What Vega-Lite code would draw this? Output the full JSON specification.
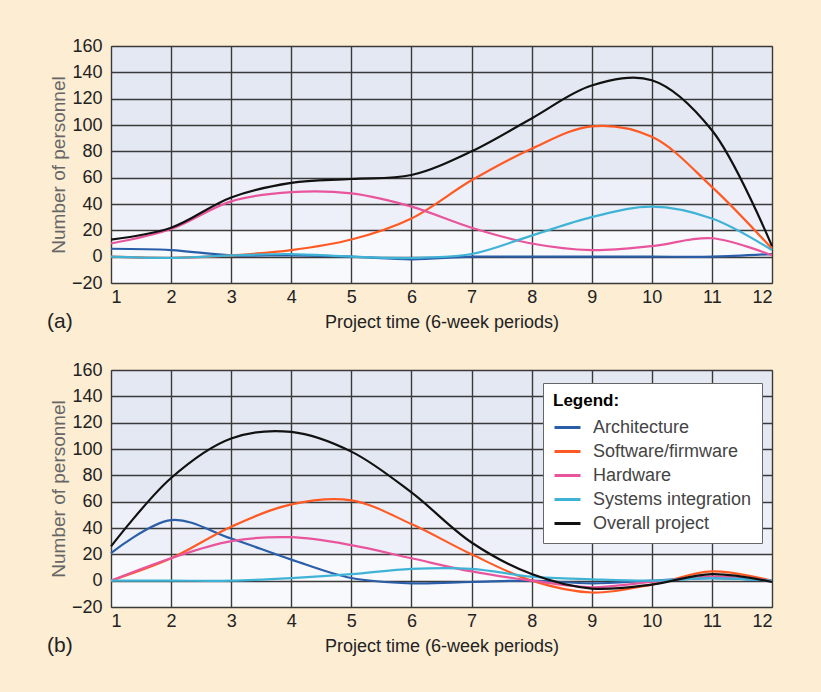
{
  "$schema": "https://vega.github.io/schema/vega-lite/v6.json",
  "background": "#fcedd3",
  "padding": {"left": 46, "top": 36, "right": 44, "bottom": 36},
  "spacing": 27,
  "config": {
    "font": "Liberation Sans",
    "axis": {
      "domain": false,
      "ticks": false,
      "grid": true,
      "gridColor": "#3a3a3a",
      "gridWidth": 1.4,
      "gridOpacity": 1,
      "labelFontSize": 18,
      "labelColor": "#222",
      "titleFontWeight": "normal"
    },
    "legend": {
      "fillColor": "#ffffff",
      "strokeColor": "#666",
      "padding": 10
    },
    "title": {"fontSize": 21, "fontWeight": "normal", "color": "#222"}
  },
  "datasets": {
    "a": [
      {"t":1,"s":"Architecture","v":6},{"t":2,"s":"Architecture","v":5},{"t":3,"s":"Architecture","v":1},{"t":4,"s":"Architecture","v":1},{"t":5,"s":"Architecture","v":0},{"t":6,"s":"Architecture","v":-2},{"t":7,"s":"Architecture","v":0},{"t":8,"s":"Architecture","v":0},{"t":9,"s":"Architecture","v":0},{"t":10,"s":"Architecture","v":0},{"t":11,"s":"Architecture","v":0},{"t":12,"s":"Architecture","v":2},
      {"t":1,"s":"Software/firmware","v":0},{"t":2,"s":"Software/firmware","v":-1},{"t":3,"s":"Software/firmware","v":1},{"t":4,"s":"Software/firmware","v":5},{"t":5,"s":"Software/firmware","v":13},{"t":6,"s":"Software/firmware","v":29},{"t":7,"s":"Software/firmware","v":58},{"t":8,"s":"Software/firmware","v":82},{"t":9,"s":"Software/firmware","v":99},{"t":10,"s":"Software/firmware","v":91},{"t":11,"s":"Software/firmware","v":53},{"t":12,"s":"Software/firmware","v":6},
      {"t":1,"s":"Hardware","v":10},{"t":2,"s":"Hardware","v":21},{"t":3,"s":"Hardware","v":42},{"t":4,"s":"Hardware","v":49},{"t":5,"s":"Hardware","v":48},{"t":6,"s":"Hardware","v":38},{"t":7,"s":"Hardware","v":22},{"t":8,"s":"Hardware","v":10},{"t":9,"s":"Hardware","v":5},{"t":10,"s":"Hardware","v":8},{"t":11,"s":"Hardware","v":14},{"t":12,"s":"Hardware","v":1},
      {"t":1,"s":"Systems integration","v":0},{"t":2,"s":"Systems integration","v":-1},{"t":3,"s":"Systems integration","v":1},{"t":4,"s":"Systems integration","v":2},{"t":5,"s":"Systems integration","v":0},{"t":6,"s":"Systems integration","v":-1},{"t":7,"s":"Systems integration","v":2},{"t":8,"s":"Systems integration","v":16},{"t":9,"s":"Systems integration","v":30},{"t":10,"s":"Systems integration","v":38},{"t":11,"s":"Systems integration","v":29},{"t":12,"s":"Systems integration","v":5},
      {"t":1,"s":"Overall project","v":13},{"t":2,"s":"Overall project","v":22},{"t":3,"s":"Overall project","v":45},{"t":4,"s":"Overall project","v":56},{"t":5,"s":"Overall project","v":59},{"t":6,"s":"Overall project","v":62},{"t":7,"s":"Overall project","v":80},{"t":8,"s":"Overall project","v":105},{"t":9,"s":"Overall project","v":130},{"t":10,"s":"Overall project","v":134},{"t":11,"s":"Overall project","v":96},{"t":12,"s":"Overall project","v":8}
    ],
    "b": [
      {"t":1,"s":"Architecture","v":21},{"t":2,"s":"Architecture","v":46},{"t":3,"s":"Architecture","v":32},{"t":4,"s":"Architecture","v":16},{"t":5,"s":"Architecture","v":2},{"t":6,"s":"Architecture","v":-2},{"t":7,"s":"Architecture","v":-1},{"t":8,"s":"Architecture","v":0},{"t":9,"s":"Architecture","v":-2},{"t":10,"s":"Architecture","v":0},{"t":11,"s":"Architecture","v":2},{"t":12,"s":"Architecture","v":0},
      {"t":1,"s":"Software/firmware","v":0},{"t":2,"s":"Software/firmware","v":17},{"t":3,"s":"Software/firmware","v":41},{"t":4,"s":"Software/firmware","v":58},{"t":5,"s":"Software/firmware","v":61},{"t":6,"s":"Software/firmware","v":43},{"t":7,"s":"Software/firmware","v":20},{"t":8,"s":"Software/firmware","v":0},{"t":9,"s":"Software/firmware","v":-9},{"t":10,"s":"Software/firmware","v":-3},{"t":11,"s":"Software/firmware","v":7},{"t":12,"s":"Software/firmware","v":0},
      {"t":1,"s":"Hardware","v":0},{"t":2,"s":"Hardware","v":17},{"t":3,"s":"Hardware","v":30},{"t":4,"s":"Hardware","v":33},{"t":5,"s":"Hardware","v":27},{"t":6,"s":"Hardware","v":17},{"t":7,"s":"Hardware","v":7},{"t":8,"s":"Hardware","v":0},{"t":9,"s":"Hardware","v":-5},{"t":10,"s":"Hardware","v":-1},{"t":11,"s":"Hardware","v":3},{"t":12,"s":"Hardware","v":0},
      {"t":1,"s":"Systems integration","v":0},{"t":2,"s":"Systems integration","v":0},{"t":3,"s":"Systems integration","v":0},{"t":4,"s":"Systems integration","v":2},{"t":5,"s":"Systems integration","v":5},{"t":6,"s":"Systems integration","v":9},{"t":7,"s":"Systems integration","v":9},{"t":8,"s":"Systems integration","v":3},{"t":9,"s":"Systems integration","v":1},{"t":10,"s":"Systems integration","v":0},{"t":11,"s":"Systems integration","v":2},{"t":12,"s":"Systems integration","v":0},
      {"t":1,"s":"Overall project","v":26},{"t":2,"s":"Overall project","v":78},{"t":3,"s":"Overall project","v":108},{"t":4,"s":"Overall project","v":113},{"t":5,"s":"Overall project","v":98},{"t":6,"s":"Overall project","v":67},{"t":7,"s":"Overall project","v":29},{"t":8,"s":"Overall project","v":5},{"t":9,"s":"Overall project","v":-6},{"t":10,"s":"Overall project","v":-3},{"t":11,"s":"Overall project","v":5},{"t":12,"s":"Overall project","v":-1}
    ]
  },
  "resolve": {"legend": {"color": "independent"}},
  "vconcat": [
    {
      "width": 661,
      "height": 237,
      "data": {"name": "a"},
      "title": {"text": "(a)", "orient": "bottom", "anchor": "start", "frame": "group", "dx": -64, "offset": -20},
      "view": {
        "stroke": "#444",
        "fill": {"gradient": "linear", "x1": 0, "y1": 0, "x2": 0, "y2": 1,
          "stops": [
            {"offset": 0, "color": "#e3e8f3"},
            {"offset": 0.555, "color": "#e3e8f3"},
            {"offset": 0.556, "color": "#edf0f9"},
            {"offset": 0.777, "color": "#edf0f9"},
            {"offset": 0.778, "color": "#f8f9fd"},
            {"offset": 1, "color": "#f8f9fd"}
          ]}
      },
      "mark": {"type": "line", "interpolate": "catmull-rom", "strokeWidth": 2.2},
      "encoding": {
        "x": {"field": "t", "type": "quantitative",
          "scale": {"domain": [1, 12], "nice": false, "zero": false},
          "axis": {"values": [1,2,3,4,5,6,7,8,9,10,11,12], "labelPadding": 5, "title": "Project time (6-week periods)", "titleFontSize": 18, "titleColor": "#222", "titlePadding": 7}},
        "y": {"field": "v", "type": "quantitative",
          "scale": {"domain": [-20, 160], "nice": false, "zero": false},
          "axis": {"values": [-20,0,20,40,60,80,100,120,140,160], "labelPadding": 9, "title": "Number of personnel", "titleFontSize": 19, "titleColor": "#666", "titlePadding": 3}},
        "color": {"field": "s", "type": "nominal",
          "scale": {"domain": ["Architecture","Software/firmware","Hardware","Systems integration","Overall project"],
                    "range": ["#2a5ea8","#ff5a24","#e8559c","#3fb3d6","#111111"]},
          "legend": null}
      }
    },
    {
      "width": 661,
      "height": 237,
      "data": {"name": "b"},
      "title": {"text": "(b)", "orient": "bottom", "anchor": "start", "frame": "group", "dx": -64, "offset": -20},
      "view": {
        "stroke": "#444",
        "fill": {"gradient": "linear", "x1": 0, "y1": 0, "x2": 0, "y2": 1,
          "stops": [
            {"offset": 0, "color": "#e3e8f3"},
            {"offset": 0.555, "color": "#e3e8f3"},
            {"offset": 0.556, "color": "#edf0f9"},
            {"offset": 0.777, "color": "#edf0f9"},
            {"offset": 0.778, "color": "#f8f9fd"},
            {"offset": 1, "color": "#f8f9fd"}
          ]}
      },
      "mark": {"type": "line", "interpolate": "catmull-rom", "strokeWidth": 2.2},
      "encoding": {
        "x": {"field": "t", "type": "quantitative",
          "scale": {"domain": [1, 12], "nice": false, "zero": false},
          "axis": {"values": [1,2,3,4,5,6,7,8,9,10,11,12], "labelPadding": 5, "title": "Project time (6-week periods)", "titleFontSize": 18, "titleColor": "#222", "titlePadding": 7}},
        "y": {"field": "v", "type": "quantitative",
          "scale": {"domain": [-20, 160], "nice": false, "zero": false},
          "axis": {"values": [-20,0,20,40,60,80,100,120,140,160], "labelPadding": 9, "title": "Number of personnel", "titleFontSize": 19, "titleColor": "#666", "titlePadding": 3}},
        "color": {"field": "s", "type": "nominal",
          "scale": {"domain": ["Architecture","Software/firmware","Hardware","Systems integration","Overall project"],
                    "range": ["#2a5ea8","#ff5a24","#e8559c","#3fb3d6","#111111"]},
          "legend": {"title": "Legend:", "orient": "none", "legendX": 432, "legendY": 13,
            "titleFontSize": 17, "titleFontWeight": "bold", "titleColor": "#000", "titlePadding": 3,
            "labelFontSize": 18, "labelColor": "#444",
            "symbolType": "stroke", "symbolSize": 676, "symbolStrokeWidth": 3,
            "rowPadding": 0, "labelOffset": 11}}
      }
    }
  ]
}
